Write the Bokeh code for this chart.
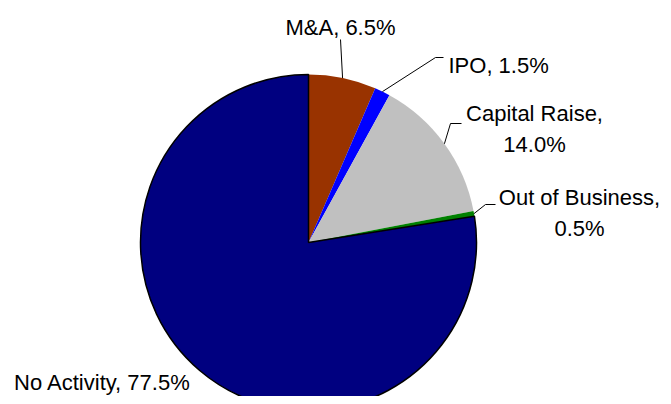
import math
from bokeh.plotting import figure
from bokeh.models import Range1d, ColumnDataSource
from bokeh.core.properties import value
from bokeh.embed import file_html
from bokeh.resources import INLINE

# ---- data ----
categories = ["M&A", "IPO", "Capital Raise", "Out of Business", "No Activity"]
shares = [6.5, 1.5, 14.0, 0.5, 77.5]
colors = ["#993300", "#0000FF", "#C0C0C0", "#008000", "#000080"]
label_lines = [["M&A, 6.5%"], ["IPO, 1.5%"], ["Capital Raise,", "14.0%"],
               ["Out of Business,", "0.5%"], ["No Activity, 77.5%"]]

# ---- layout (picture pixel coordinates, origin top-left) ----
W, H = 663, 396
CX, CY, R = 308, 242, 168
# label anchor (x, first baseline y, align), leader elbow/end points
label_pos = [(340, 27, "center"), (448, 65, "left"), (534, 113, "center"),
             (579, 197, "center"), (102, 382, "center")]
leader = [[(340, 39)], [(435, 57), (443, 57)], [(450, 123), (461, 123)],
          [(485, 204), (495, 204)], None]
LINE_GAP = 31
FONT = "Liberation Sans"
FSIZE = "22px"


def sy(y):  # picture y -> data y
    return H - y


p = figure(width=W, height=H, output_backend="svg", toolbar_location=None,
           x_range=Range1d(0, W), y_range=Range1d(0, H),
           min_border=0, outline_line_color=None)
p.axis.visible = False
p.grid.visible = False
p.background_fill_color = "white"
p.border_fill_color = "white"

total = sum(shares)
cum = 0.0
starts, ends, mids = [], [], []
for s in shares:
    a0 = cum / total * 2 * math.pi
    cum += s
    a1 = cum / total * 2 * math.pi
    starts.append(math.pi / 2 - a0)
    ends.append(math.pi / 2 - a1)
    mids.append((a0 + a1) / 2)

for i in range(len(shares)):
    lc = "black" if categories[i] == "No Activity" else None
    p.wedge(x=CX, y=sy(CY), radius=R, start_angle=starts[i], end_angle=ends[i],
            direction="clock", fill_color=colors[i], line_color=lc, line_width=1.5)

# leader lines
for i in range(len(shares)):
    if leader[i] is None:
        continue
    ex = CX + R * math.sin(mids[i])
    ey = CY - R * math.cos(mids[i])
    pts = [(ex, ey)] + leader[i]
    p.line([q[0] for q in pts], [sy(q[1]) for q in pts], line_color="black", line_width=1)

# labels
for i in range(len(shares)):
    x, y0, align = label_pos[i]
    lines = label_lines[i]
    src = ColumnDataSource(dict(x=[x] * len(lines),
                                y=[sy(y0 + k * LINE_GAP) for k in range(len(lines))],
                                t=lines))
    p.text(x="x", y="y", text="t", source=src, text_font=value(FONT),
           text_font_size=FSIZE, text_align=align, text_baseline="alphabetic",
           text_color="black")

open("out.html", "w").write(file_html(p, INLINE))
